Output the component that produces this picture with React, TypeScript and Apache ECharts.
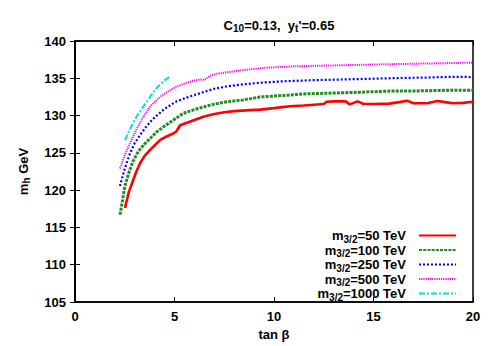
import React, { useEffect, useRef } from "react";
import * as echarts from "echarts";

const seriesNames = ["50", "100", "250", "500", "1000"];
const seriesColors = ["#ff0000", "#238b23", "#0000ff", "#ff00ff", "#00dddd"];

const redX = [2.51, 2.7, 2.93, 3.1, 3.27, 3.5, 3.77, 4.0, 4.27, 4.6, 4.94, 5.1, 5.28, 5.6, 6.0, 6.45, 7.0, 7.5, 8.0, 8.6, 9.3, 10.0, 10.8, 11.5, 12.0, 12.5, 12.65, 13.0, 13.6, 13.8, 14.2, 14.5, 15.0, 15.8, 16.3, 16.7, 17.0, 17.7, 18.2, 18.6, 19.0, 19.5, 20.0];
const redY = [117.6, 119.7, 121.4, 122.6, 123.6, 124.6, 125.4, 126.0, 126.7, 127.2, 127.6, 127.9, 128.7, 129.0, 129.4, 129.85, 130.2, 130.45, 130.6, 130.7, 130.8, 131.0, 131.25, 131.35, 131.45, 131.55, 131.85, 131.9, 131.9, 131.5, 131.9, 131.55, 131.55, 131.6, 131.8, 132.0, 131.65, 131.65, 131.95, 131.8, 131.65, 131.7, 131.85];

const greenX = [2.26, 2.4, 2.5, 2.7, 2.9, 3.18, 3.5, 3.8, 4.1, 4.5, 5.0, 5.44, 6.0, 6.78, 7.5, 8.45, 9.3, 10.5, 11.5, 12.7, 14.0, 15.0, 16.0, 17.0, 18.0, 19.0, 20.0];
const greenY = [116.7, 118.8, 120.5, 122.3, 123.8, 125.2, 126.2, 127.0, 127.8, 128.6, 129.5, 130.3, 130.8, 131.4, 131.8, 132.1, 132.5, 132.7, 132.9, 133.0, 133.1, 133.2, 133.3, 133.3, 133.35, 133.4, 133.4];

const blueX = [2.26, 2.5, 2.76, 3.0, 3.27, 3.6, 3.94, 4.5, 5.1, 5.7, 6.28, 7.0, 7.6, 8.5, 9.3, 10.5, 12.0, 13.5, 15.1, 16.5, 17.7, 19.0, 19.7, 20.0];
const blueY = [120.55, 122.9, 124.9, 126.3, 127.4, 128.6, 129.6, 130.9, 131.9, 132.5, 133.0, 133.6, 133.9, 134.2, 134.4, 134.6, 134.75, 134.85, 134.95, 135.05, 135.1, 135.2, 135.2, 135.1];

const magentaX = [2.26, 2.5, 2.76, 3.1, 3.43, 3.8, 4.27, 4.7, 5.1, 5.6, 6.0, 6.28, 6.5, 6.78, 7.1, 7.6, 8.45, 9.5, 10.97, 12.5, 14.3, 16.0, 18.0, 20.0];
const magentaY = [122.9, 124.7, 126.3, 128.2, 129.85, 131.3, 132.5, 133.3, 133.9, 134.4, 134.7, 134.85, 134.75, 135.3, 135.6, 135.8, 136.1, 136.4, 136.6, 136.7, 136.8, 136.9, 137.0, 137.1];

const cyanX = [2.51, 2.8, 3.1, 3.43, 3.8, 4.1, 4.4, 4.74];
const cyanY = [126.7, 128.4, 129.9, 131.2, 132.6, 133.7, 134.5, 135.2];

const xTicks = [0, 5, 10, 15, 20];
const yTicks = [105, 110, 115, 120, 125, 130, 135, 140];

const allX = [redX, greenX, blueX, magentaX, cyanX];
const allY = [redY, greenY, blueY, magentaY, cyanY];
const lineWidths = [2.6, 3, 2.2, 2, 2];
const lineTypes: any[] = ["solid", [3, 1.2], [2, 2], [1.2, 1], [6, 2, 2, 2]];

const FONT = "Liberation Sans";
const FS = 13;
const SUB = 10;

export default function App() {
  const ref = useRef<HTMLDivElement>(null);
  useEffect(() => {
    const chart = echarts.init(ref.current!, null, { renderer: "svg" });
    const series = allX.map((xs, i) => ({
      name: "m3/2=" + seriesNames[i] + " TeV",
      type: "line",
      symbol: "none",
      smooth: false,
      data: xs.map((x, j) => [x, allY[i][j]]),
      lineStyle: { color: seriesColors[i], width: lineWidths[i], type: lineTypes[i] },
      itemStyle: { color: seriesColors[i] },
    }));
    const tickStyle = { color: "#000", fontFamily: FONT, fontWeight: "bold", fontSize: FS };
    const richSub = {
      n: { fontFamily: FONT, fontWeight: "bold", fontSize: FS, color: "#000", lineHeight: 16 },
      s: { fontFamily: FONT, fontWeight: "bold", fontSize: SUB, color: "#000", lineHeight: 16, padding: [7, 0, 0, 0] },
    };
    chart.setOption({
      animation: false,
      title: {
        text: "{n|C}{s|10}{n|=0.13,  y}{s|t}{n|'=0.65}",
        left: 274,
        textAlign: "center",
        top: 12,
        textStyle: { rich: richSub },
      },
      grid: { left: 75, right: 21, top: 41, bottom: 44, show: true, borderColor: "#000", borderWidth: 1.5 },
      legend: {
        orient: "vertical",
        right: 37,
        top: 227,
        padding: 0,
        align: "right",
        itemWidth: 37,
        itemHeight: 8,
        itemGap: -2.5,
        itemStyle: { opacity: 0 },
        data: series.map((s) => s.name),
        formatter: (name: string) => {
          const rest = name.replace("m3/2", "");
          return "{n|m}{s|3/2}{n|" + rest + "}{p| }";
        },
        textStyle: {
          rich: {
            n: { fontFamily: FONT, fontWeight: "bold", fontSize: FS, color: "#000", lineHeight: 11 },
            s: { fontFamily: FONT, fontWeight: "bold", fontSize: SUB, color: "#000", lineHeight: 6, padding: [7, 0, 0, 0] },
            p: { width: 8, lineHeight: 11 },
          },
        },
      },
      xAxis: [
        {
          type: "value",
          min: 0,
          max: 20,
          interval: 5,
          name: "tan β",
          nameLocation: "middle",
          nameGap: 20,
          nameTextStyle: { color: "#000", fontFamily: FONT, fontWeight: "bold", fontSize: FS },
          axisLine: { show: true, lineStyle: { color: "#000", width: 1.5 } },
          axisTick: { show: true, inside: true, length: 5, lineStyle: { color: "#000" } },
          axisLabel: { ...tickStyle, margin: 8, formatter: (v: number) => (xTicks.includes(v) ? String(v) : "") },
          splitLine: { show: false },
        },
        {
          type: "value",
          position: "top",
          min: 0,
          max: 20,
          interval: 5,
          axisLine: { show: true, lineStyle: { color: "#000", width: 1.5 } },
          axisTick: { show: true, inside: true, length: 5, lineStyle: { color: "#000" } },
          axisLabel: { show: false },
          splitLine: { show: false },
        },
      ],
      yAxis: [
        {
          type: "value",
          min: 105,
          max: 140,
          interval: 5,
          name: "{n|m}{s|h}{n| GeV}",
          nameLocation: "middle",
          nameGap: 44,
          nameTextStyle: { rich: richSub },
          axisLine: { show: true, lineStyle: { color: "#000", width: 1.5 } },
          axisTick: { show: true, inside: true, length: 5, lineStyle: { color: "#000" } },
          axisLabel: { ...tickStyle, margin: 9, formatter: (v: number) => (yTicks.includes(v) ? String(v) : "") },
          splitLine: { show: false },
        },
        {
          type: "value",
          position: "right",
          min: 105,
          max: 140,
          interval: 5,
          axisLine: { show: true, lineStyle: { color: "#000", width: 1.5 } },
          axisTick: { show: true, inside: true, length: 5, lineStyle: { color: "#000" } },
          axisLabel: { show: false },
          splitLine: { show: false },
        },
      ],
      series,
    });
    return () => chart.dispose();
  }, []);
  return <div ref={ref} style={{ width: 494, height: 346, position: "absolute", left: 0, top: 0, background: "#fff" }} />;
}
